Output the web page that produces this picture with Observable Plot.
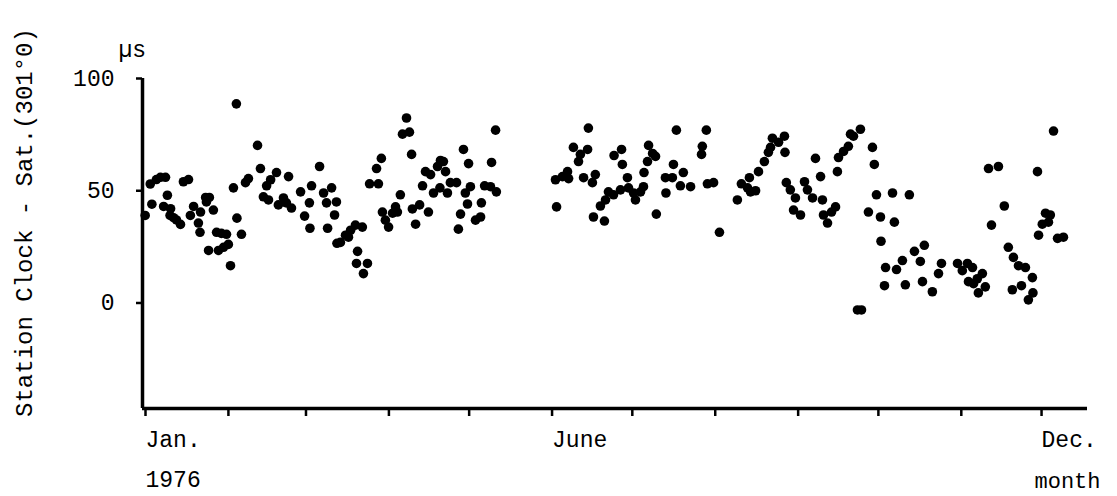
<!DOCTYPE html>
<html>
<head>
<meta charset="utf-8">
<script src="https://cdn.jsdelivr.net/npm/d3@7"></script>
<script src="https://cdn.jsdelivr.net/npm/@observablehq/plot@0.6"></script>
<style>
  html, body { margin: 0; padding: 0; background: #fff; }
</style>
</head>
<body>
<div id="chart"></div>
<script>
// Day of year 1976 (0 = Jan 1) for each observation
const days = [
  1.0, 3.5, 2.9, 5.2, 6.7, 8.6, 9.3, 7.9, 10.5, 10.3, 11.6, 12.7, 14.2, 15.3, 17.2, 17.9, 19.1, 21.7, 23.6, 25.0,
  23.9, 20.9, 21.5, 26.5, 27.7, 29.5, 31.4, 24.7, 28.4, 30.3, 32.1, 32.9, 35.1, 34.0, 35.3, 37.0, 38.5, 39.6, 43.0, 44.1,
  45.2, 47.1, 46.4, 47.9, 50.1, 50.8, 52.7, 53.8, 55.7, 54.6, 59.1, 60.6, 62.4, 62.6, 63.2, 66.2, 67.7, 68.8, 70.7, 69.2,
  71.8, 72.5, 72.7, 74.0, 75.9, 77.8, 79.6, 82.2, 77.0, 80.4, 80.0, 84.1, 82.6, 84.9, 88.2, 87.5, 89.3, 89.7, 90.8, 92.0,
  93.5, 94.6, 96.4, 95.3, 98.7, 97.2, 99.8, 100.6, 100.9, 103.6, 102.1, 106.9, 104.7, 105.8, 107.7, 110.3, 111.4, 112.5, 113.3, 108.8,
  111.2, 114.0, 115.1, 117.4, 120.0, 121.9, 118.9, 118.1, 120.7, 122.6, 121.5, 124.5, 126.4, 126.7, 127.9, 130.1, 132.3, 130.5, 132.0,
  154.4, 157.0, 158.9, 159.3, 154.8, 161.1, 163.0, 166.4, 163.7, 166.7, 164.9, 168.2, 169.3, 168.6, 172.7, 171.2, 173.1, 174.2, 176.1, 178.7,
  181.3, 181.7, 183.6, 184.3, 186.2, 187.3, 176.3, 179.1, 179.4, 187.5, 189.2, 190.7, 191.8, 188.8, 192.1, 195.5, 198.1, 195.7, 198.5, 202.2,
  199.6, 201.1, 204.9, 209.0, 209.3, 210.8, 211.2, 213.5, 215.7,
  222.4, 223.9, 226.2, 227.3, 229.2, 226.9, 230.3, 232.5, 234.0, 234.8, 235.5, 237.8, 240.0, 240.2, 240.7, 242.2, 244.1, 243.4, 246.0, 247.5,
  248.6, 250.5, 251.6, 253.5, 254.2, 254.6, 256.1, 257.6, 259.1, 259.8, 260.2, 262.1, 263.9, 264.7, 268.4, 265.8, 272.9, 273.6, 274.4, 280.4,
  286.7, 271.4, 275.9, 281.1, 276.1, 277.8, 281.9, 284.1, 277.4, 285.2, 288.6, 267.3, 268.8,
  290.8, 292.3, 291.6, 295.3, 298.7, 297.6, 304.7, 306.5, 308.4, 310.3, 308.8, 310.7, 314.0, 312.5, 315.1, 312.1, 316.3, 320.0, 317.4, 322.2,
  323.7, 325.6, 327.5, 330.1, 332.7, 325.2, 328.6, 332.9, 331.2, 334.6, 335.0, 336.4, 337.6, 339.4, 338.7, 342.1, 344.3, 340.6
];
// Station clock minus satellite, microseconds
const offsets = [
  39, 44, 53, 55, 56, 56, 48, 43, 42, 39, 38, 37, 35, 54, 55, 39, 43, 40.5, 47, 47,
  45, 35.6, 31.5, 41.4, 31.5, 31, 30.6, 23.4, 23.4, 24.8, 26.1, 16.6, 88.7, 51.3, 37.8, 30.6, 53.6, 55.4, 70.2, 59.9,
  47.3, 45.9, 52.2, 54.9, 58.1, 43.7, 46.8, 44.6, 42.3, 56.3, 49.5, 38.7, 44.6, 33.3, 52.2, 60.8, 49, 44.6, 51.3, 33.3,
  39.2, 45, 26.6, 27, 30.2, 32.4, 34.7, 33.8, 29.3, 23, 17.6, 17.6, 13.1, 53.1, 53.1, 59.9, 64.4, 40.5, 36.9, 33.8,
  40, 42.8, 48.2, 40.5, 82.4, 75.2, 76.1, 66.2, 41.9, 43.7, 35.1, 40.5, 52.2, 58.5, 57.2, 60.8, 63.5, 63, 58.5, 49,
  51.3, 49, 53.6, 53.6, 68.4, 62.1, 39.6, 32.9, 49, 51.8, 44.1, 36.9, 38.3, 44.6, 52.2, 51.8, 49.5, 62.6, 77,
  54.9, 56.3, 58.5, 55.4, 42.8, 69.3, 63, 68.4, 66.2, 77.9, 55.8, 53.6, 57.2, 38.3, 36.5, 43.2, 45.9, 49.5, 48.2, 50.4,
  55.8, 51.3, 49, 45.9, 49.5, 51.8, 65.7, 68.4, 61.7, 58.1, 70.2, 66.6, 65.3, 63, 39.6, 55.8, 55.8, 49, 61.7, 58.1,
  77, 52.2, 51.8, 66.2, 69.8, 77, 53.1, 53.6, 31.5,
  45.9, 53.1, 51.3, 49.5, 50, 55.8, 58.5, 63, 67.1, 69.3, 73.4, 71.6, 74.3, 67.1, 53.6, 50.4, 46.8, 41.4, 39.2, 54,
  50.4, 46.8, 64.4, 56.3, 45.9, 39.2, 35.6, 40.5, 42.8, 58.5, 64.8, 67.5, 69.8, 75.2, 77.4, 74.3, 69.3, 61.7, 48.2, 49,
  48.2, 40.5, 38.3, 36, 27.5, 15.8, 14.9, 18.9, 7.7, 8.1, 23, -3.1, -3.1,
  18.5, 25.7, 9.5, 5, 17.6, 13.1, 17.6, 14.4, 17.6, 15.8, 9.5, 8.6, 13.1, 4.5, 7.2, 10.8, 59.9, 60.8, 34.7, 43.2,
  24.8, 20.3, 16.6, 15.8, 11.3, 5.9, 7.7, 4.5, 1.4, 58.5, 30.2, 35.1, 40, 39.2, 36, 28.8, 29.3, 76.6
];
const monthLabels = ["Jan.", "", "", "", "", "June", "", "", "", "", "", "Dec."];
const yTicks = [0, 50, 100];
const yLabel = "Station Clock - Sat.(301°0)";
const yUnit = "µs";
const yearLabel = "1976";
const xUnit = "month";

const DAY = 86400000;
const t0 = Date.UTC(1976, 0, 1);
const data = days.map((d, i) => ({date: new Date(t0 + d * DAY), value: offsets[i]}));
const monthTicks = monthLabels.map((_, m) => new Date(Date.UTC(1976, m, 1)));
const xDomain = [new Date(t0), new Date(t0 + 353.3 * DAY)];
const yDomain = [-47, 100];

const chart = Plot.plot({
  width: 1117,
  height: 496,
  marginLeft: 142,
  marginRight: 30,
  marginTop: 78,
  marginBottom: 88,
  style: {fontFamily: "'Liberation Mono', 'DejaVu Sans Mono', monospace", fontSize: "23px", color: "#000", background: "#fff"},
  x: {type: "utc", domain: xDomain},
  y: {domain: yDomain},
  marks: [
    Plot.axisX({ticks: monthTicks, tickFormat: d => monthLabels[d.getUTCMonth()], tickSize: 8, tickPadding: 14,
      textAnchor: "start", dx: 3, label: null, strokeWidth: 2.5}),
    Plot.axisY({ticks: yTicks, tickSize: 6, tickPadding: 22, label: null, strokeWidth: 2.5}),
    Plot.ruleX([xDomain[0]], {strokeWidth: 3.5}),
    Plot.ruleY([yDomain[0]], {strokeWidth: 3.5}),
    Plot.dot(data, {x: "date", y: "value", r: 4.8, fill: "#000", stroke: "none"}),
    Plot.text([yLabel], {text: d => d, frameAnchor: "left", textAnchor: "middle", lineAnchor: "middle",
      dx: -118, dy: -21, rotate: -90, fontSize: 24, letterSpacing: 1.6}),
    Plot.text([yUnit], {text: d => d, frameAnchor: "top-left", textAnchor: "start", lineAnchor: "bottom",
      dx: -24, dy: -22, fontSize: 23}),
    Plot.text([yearLabel], {text: d => d, frameAnchor: "bottom-left", textAnchor: "start", lineAnchor: "bottom",
      dx: 3, dy: 78}),
    Plot.text([xUnit], {text: d => d, frameAnchor: "bottom-right", textAnchor: "start", lineAnchor: "bottom",
      dx: -53, dy: 79, fontSize: 22})
  ]
});
document.getElementById("chart").appendChild(chart);
</script>
</body>
</html>
